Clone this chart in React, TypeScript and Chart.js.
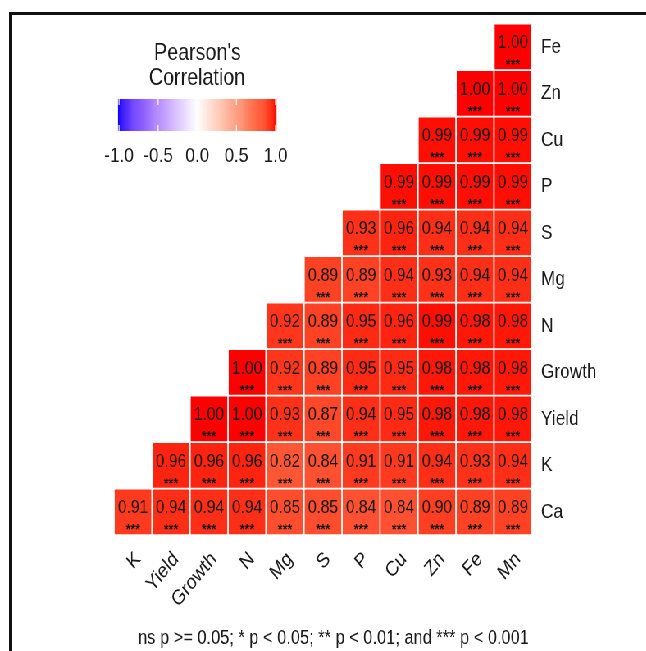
import React, { useEffect, useRef } from "react";
import { Chart, registerables } from "chart.js";

Chart.register(...registerables);

// ---- data ----
const columnLabels = ["K", "Yield", "Growth", "N", "Mg", "S", "P", "Cu", "Zn", "Fe", "Mn"];
// rows listed bottom to top
const rowLabels = ["Ca", "K", "Yield", "Growth", "N", "Mg", "S", "P", "Cu", "Zn", "Fe"];

const caValues = [0.91, 0.94, 0.94, 0.94, 0.85, 0.85, 0.84, 0.84, 0.9, 0.89, 0.89];
const kValues = [0.96, 0.96, 0.96, 0.82, 0.84, 0.91, 0.91, 0.94, 0.93, 0.94];
const yieldValues = [1.0, 1.0, 0.93, 0.87, 0.94, 0.95, 0.98, 0.98, 0.98];
const growthValues = [1.0, 0.92, 0.89, 0.95, 0.95, 0.98, 0.98, 0.98];
const nValues = [0.92, 0.89, 0.95, 0.96, 0.99, 0.98, 0.98];
const mgValues = [0.89, 0.89, 0.94, 0.93, 0.94, 0.94];
const sValues = [0.93, 0.96, 0.94, 0.94, 0.94];
const pValues = [0.99, 0.99, 0.99, 0.99];
const cuValues = [0.99, 0.99, 0.99];
const znValues = [1.0, 1.0];
const feValues = [1.0];

const rowValues = [caValues, kValues, yieldValues, growthValues, nValues, mgValues, sValues, pValues, cuValues, znValues, feValues];

const significanceLabel = "***"; // every pair p < 0.001
const legendTitle = ["Pearson's", "Correlation"];
const legendTicks = [-1.0, -0.5, 0.0, 0.5, 1.0];
const footnote = "ns p >= 0.05; * p < 0.05; ** p < 0.01; and *** p < 0.001";

// ---- geometry / style ----
const SX = 0.82; // horizontal squeeze of the reference image
const W = Math.round(646 / SX);
const H = 651;
const FONT = '"Liberation Sans", Arial, Helvetica, sans-serif';
const TEXT = "#1a1a1a";

const LAB_WHITE = [100, 0, 0];
const LAB_RED = [53.24, 80.09, 67.2];
const LAB_BLUE = [32.3, 79.19, -107.86];

function labToRgb(L: number, a: number, b: number): [number, number, number] {
  const fy = (L + 16) / 116;
  const fx = fy + a / 500;
  const fz = fy - b / 200;
  const finv = (t: number) => (t * t * t > 0.008856 ? t * t * t : (t - 16 / 116) / 7.787);
  const X = 0.95047 * finv(fx);
  const Y = 1.0 * finv(fy);
  const Z = 1.08883 * finv(fz);
  const lin = [
    3.2406 * X - 1.5372 * Y - 0.4986 * Z,
    -0.9689 * X + 1.8758 * Y + 0.0415 * Z,
    0.0557 * X - 0.204 * Y + 1.057 * Z,
  ];
  const g = lin.map((c) => {
    const v = c <= 0.0031308 ? 12.92 * c : 1.055 * Math.pow(c, 1 / 2.4) - 0.055;
    return Math.round(Math.max(0, Math.min(1, v)) * 255);
  });
  return [g[0], g[1], g[2]];
}

function corrColor(v: number): string {
  const t = Math.min(1, Math.abs(v));
  const end = v >= 0 ? LAB_RED : LAB_BLUE;
  const L = LAB_WHITE[0] + (end[0] - LAB_WHITE[0]) * t;
  const a = LAB_WHITE[1] + (end[1] - LAB_WHITE[1]) * t;
  const b = LAB_WHITE[2] + (end[2] - LAB_WHITE[2]) * t;
  const [r, gg, bb] = labToRgb(L, a, b);
  return `rgb(${r},${gg},${bb})`;
}

// cell values aligned to columns (each row's list ends at the last column)
function alignedValues(vals: number[]): (number | null)[] {
  const offset = columnLabels.length - vals.length;
  return columnLabels.map((_, j) => (j >= offset ? vals[j - offset] : null));
}

const cellLabelPlugin = {
  id: "cellLabels",
  afterDatasetsDraw(chart: any) {
    const ctx = chart.ctx;
    chart.data.datasets.forEach((ds: any, di: number) => {
      const meta = chart.getDatasetMeta(di);
      meta.data.forEach((el: any, j: number) => {
        const v = ds.cellValues[j];
        if (v == null) return;
        const { x, y } = el.getCenterPoint();
        ctx.save();
        ctx.fillStyle = TEXT;
        ctx.textAlign = "center";
        ctx.textBaseline = "alphabetic";
        ctx.font = `19px ${FONT}`;
        ctx.fillText(v.toFixed(2), x, y + 1.5);
        ctx.font = `bold 15px ${FONT}`;
        ctx.fillText(significanceLabel, x, y + 22.5);
        ctx.restore();
      });
    });
  },
};

const legendPlugin = {
  id: "corrLegend",
  afterDraw(chart: any) {
    const ctx = chart.ctx;
    const sx = (x: number) => x / SX;
    ctx.save();
    ctx.fillStyle = TEXT;
    ctx.textAlign = "center";
    ctx.textBaseline = "alphabetic";
    ctx.font = `24px ${FONT}`;
    ctx.fillText(legendTitle[0], sx(197.5), 60);
    ctx.fillText(legendTitle[1], sx(197), 85);

    // colour bar
    const x0 = sx(118);
    const x1 = sx(276);
    const y0 = 99;
    const y1 = 131;
    const steps = 200;
    for (let i = 0; i < steps; i++) {
      const v = -1 + (2 * (i + 0.5)) / steps;
      ctx.fillStyle = corrColor(v);
      ctx.fillRect(x0 + ((x1 - x0) * i) / steps, y0, (x1 - x0) / steps + 0.6, y1 - y0);
    }
    const t0 = sx(119);
    const t1 = sx(275.5);
    const tickX = (v: number) => t0 + ((v + 1) / 2) * (t1 - t0);
    ctx.strokeStyle = "white";
    ctx.lineWidth = 1.2;
    legendTicks.forEach((v) => {
      const x = tickX(v);
      ctx.beginPath();
      ctx.moveTo(x, y0);
      ctx.lineTo(x, y0 + 6);
      ctx.moveTo(x, y1);
      ctx.lineTo(x, y1 - 6);
      ctx.stroke();
    });
    ctx.fillStyle = TEXT;
    ctx.font = `21px ${FONT}`;
    legendTicks.forEach((v) => {
      ctx.fillText(v.toFixed(1), tickX(v), 162);
    });

    // footnote
    ctx.font = `20px ${FONT}`;
    ctx.fillText(footnote, sx(333.5), 644);
    ctx.restore();
  },
};

export default function App() {
  const canvasRef = useRef<HTMLCanvasElement | null>(null);

  useEffect(() => {
    const canvas = canvasRef.current;
    if (!canvas) return;
    const areaLeft = 114 / SX;
    const areaRight = 532 / SX;
    const areaTop = 23;
    const areaBottom = 535;

    const datasets = rowLabels.map((row, i) => {
      const vals = alignedValues(rowValues[i]);
      return {
        label: row,
        data: vals.map((v) => (v == null ? null : [i - 0.5, i + 0.5])),
        cellValues: vals,
        backgroundColor: vals.map((v) => (v == null ? "rgba(0,0,0,0)" : corrColor(v))),
        borderColor: "#ffffff",
        borderWidth: 1.2,
        borderSkipped: false,
        grouped: false,
        barPercentage: 1,
        categoryPercentage: 1,
      };
    });

    const chart = new Chart(canvas, {
      type: "bar",
      data: { labels: columnLabels, datasets: datasets as any },
      options: {
        responsive: false,
        animation: false,
        devicePixelRatio: 1,
        layout: { padding: { left: areaLeft, top: areaTop, right: 0, bottom: 0 } },
        plugins: { legend: { display: false }, tooltip: { enabled: false } },
        scales: {
          x: {
            type: "category",
            grid: { display: false, drawTicks: false, tickLength: 0 },
            border: { display: false },
            ticks: {
              autoSkip: false,
              maxRotation: 45,
              minRotation: 45,
              padding: 12,
              labelOffset: 6,
              color: TEXT,
              font: { family: FONT, size: 21 },
            },
            afterFit: (s: any) => {
              s.height = H - areaBottom;
            },
          },
          y: {
            type: "linear",
            position: "right",
            min: -0.5,
            max: rowLabels.length - 0.5,
            grid: { display: false, drawTicks: false, tickLength: 0 },
            border: { display: false },
            afterBuildTicks: (s: any) => {
              s.ticks = rowLabels.map((_, i) => ({ value: i }));
            },
            ticks: {
              autoSkip: false,
              padding: 11,
              color: TEXT,
              font: { family: FONT, size: 21 },
              callback: (v: any) => rowLabels[Math.round(Number(v))] ?? "",
            },
            afterFit: (s: any) => {
              s.width = W - areaRight;
            },
          },
        },
      },
      plugins: [cellLabelPlugin, legendPlugin],
    });
    return () => chart.destroy();
  }, []);

  return (
    <>
      <div
        style={{
          position: "fixed",
          left: 0,
          top: 0,
          width: W,
          height: H,
          transform: `scaleX(${SX})`,
          transformOrigin: "0 0",
          background: "white",
        }}
      >
        <canvas ref={canvasRef} width={W} height={H} style={{ width: W, height: H, display: "block" }} />
      </div>
      <div
        style={{
          position: "fixed",
          left: 9,
          top: 12,
          width: 634,
          height: 636,
          borderLeft: "3px solid #111",
          borderTop: "3px solid #111",
          pointerEvents: "none",
        }}
      />
    </>
  );
}
